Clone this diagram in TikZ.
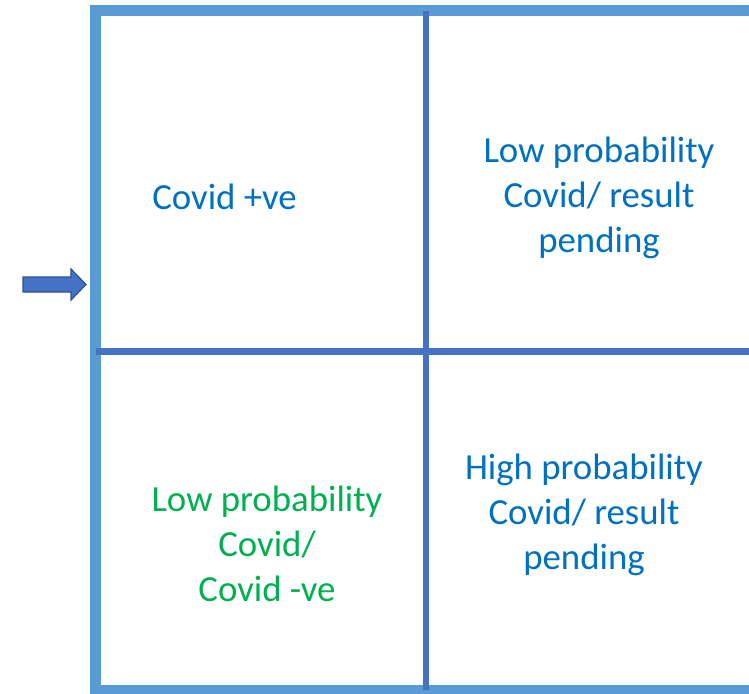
\documentclass[tikz,border=0pt]{standalone}
\usepackage{fontspec}
\setmainfont{Carlito}
\usetikzlibrary{positioning}
\definecolor{framecol}{HTML}{5B9BD5}
\definecolor{gridcol}{HTML}{4472C4}
\definecolor{arrowedge}{HTML}{2F528F}
\definecolor{txtblue}{HTML}{0070C0}
\definecolor{txtgreen}{HTML}{00B050}
\begin{document}
\begin{tikzpicture}[x=0.5pt,y=-0.5pt,
    cell/.style={align=center, text=txtblue,
      font=\fontsize{18.4pt}{22.5pt}\selectfont},
    good/.style={cell, text=txtgreen}]
  \useasboundingbox (0,0) rectangle (749,693);
  % quadrant frame and dividers
  \draw[framecol, line width=5.25pt] (95.5,10.5) rectangle (770,690);
  \draw[gridcol, line width=3.2pt] (426,10.5) -- (426,690);
  \draw[gridcol, line width=3.5pt] (95.5,351) -- (770,351);
  % pointer at the left edge
  \filldraw[fill=gridcol, draw=arrowedge, line width=0.6pt]
    (23,277) -- (71,277) -- (71,269) -- (86,284.5) -- (71,300) -- (71,292) -- (23,292) -- cycle;
  % quadrant labels
  \node[cell] (pos) at (224.5,197) {Covid +ve};
  \node[cell] (lowpend) at (599,198) {Low probability\\Covid/ result\\pending};
  \node[good] (neg) at (267,544) {Low probability\\Covid/\\Covid -ve};
  \node[cell] (highpend) at (584,515) {High probability\\Covid/ result\\pending};
\end{tikzpicture}
\end{document}
